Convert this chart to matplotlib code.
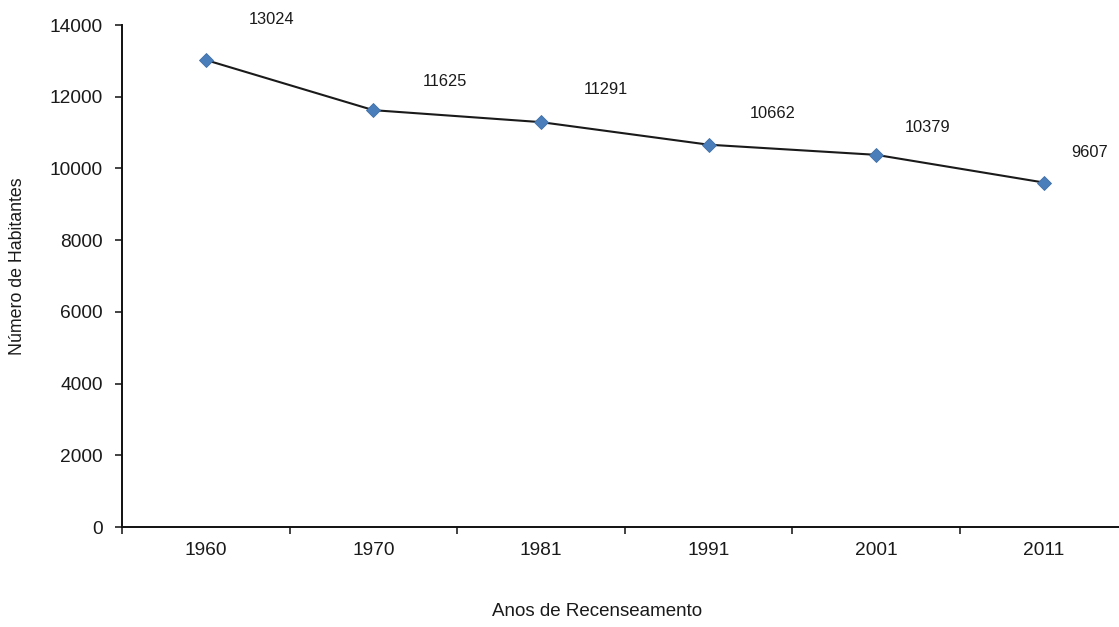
import matplotlib
matplotlib.use("Agg")
import matplotlib.pyplot as plt
from matplotlib.ticker import FixedLocator, NullFormatter, FixedFormatter

plt.rcParams['font.family'] = ['Liberation Sans', 'DejaVu Sans']

# Census years and resident population
anos = ["1960", "1970", "1981", "1991", "2001", "2011"]
habitantes = [13024, 11625, 11291, 10662, 10379, 9607]
y_ticks = [0, 2000, 4000, 6000, 8000, 10000, 12000, 14000]

# label offsets (pixels) relative to each point
label_dx = [66, 72, 65, 64, 51, 46]
label_dy = [40, 29, 33, 31, 27, 30]

fig = plt.figure(figsize=(11.19, 6.27), dpi=100)
ax = fig.add_axes([122 / 1119, 100 / 627, 1005.6 / 1119, 502 / 627])

x = list(range(len(anos)))
ax.plot(x, habitantes, color="#1a1a1a", linewidth=1.5, zorder=2)
ax.plot(x, habitantes, linestyle="none", marker="D", markersize=7.5,
        markerfacecolor="#4A7EBB", markeredgecolor="#3f6fa8",
        markeredgewidth=0.6, zorder=3)

for xi, v, dx, dy in zip(x, habitantes, label_dx, label_dy):
    ax.annotate(str(v), (xi, v), xytext=(dx, dy), textcoords="offset pixels",
                ha="center", va="center", fontsize=11.8, color="#1a1a1a")

ax.set_xlim(-0.5, len(anos) - 0.5)
ax.set_ylim(0, 14000)

ax.yaxis.set_major_locator(FixedLocator(y_ticks))
ax.set_yticklabels([str(t) for t in y_ticks])

# category boundaries carry the tick marks, centres carry the labels
ax.xaxis.set_major_locator(FixedLocator([i - 0.5 for i in range(len(anos) + 1)]))
ax.xaxis.set_major_formatter(NullFormatter())
ax.xaxis.set_minor_locator(FixedLocator(x))
ax.xaxis.set_minor_formatter(FixedFormatter(anos))
ax.tick_params(axis="x", which="major", direction="out", length=5, width=1.2, color="#222222")
ax.tick_params(axis="x", which="minor", length=0, pad=11, labelsize=13.8, labelcolor="#1a1a1a")
ax.tick_params(axis="y", direction="out", length=5, width=1.2, color="#222222",
               pad=9, labelsize=13.8, labelcolor="#1a1a1a")

for side in ("top", "right"):
    ax.spines[side].set_visible(False)
for side in ("left", "bottom"):
    ax.spines[side].set_linewidth(1.4)
    ax.spines[side].set_color("#111111")

fig.text(18 / 1119, 1 - 266 / 627, "Número de Habitantes", rotation=90,
         ha="center", va="center", fontsize=12.8, color="#1a1a1a")
fig.text(597 / 1119, 1 - 612 / 627, "Anos de Recenseamento",
         ha="center", va="center", fontsize=13.5, color="#1a1a1a")

fig.savefig("out.png", dpi=100, facecolor="white")
